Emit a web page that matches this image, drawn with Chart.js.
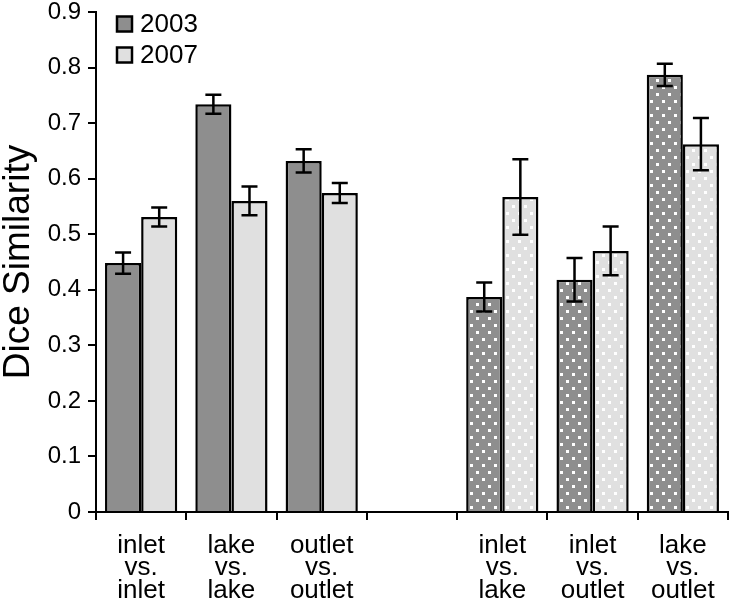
<!DOCTYPE html>
<html>
<head>
<meta charset="utf-8">
<script src="https://cdn.jsdelivr.net/npm/chart.js@4.4.1/dist/chart.umd.min.js"></script>
<style>
  html, body { margin: 0; padding: 0; background: #fff; }
  #wrap { width: 734px; height: 603px; position: relative; }
</style>
</head>
<body>
<div id="wrap"><canvas id="chartDice"></canvas></div>
<script>
// categories (the empty one is the gap between the two groups)
const categories = [
    ["inlet", "vs.", "inlet"],
    ["lake", "vs.", "lake"],
    ["outlet", "vs.", "outlet"],
    "",
    ["inlet", "vs.", "lake"],
    ["inlet", "vs.", "outlet"],
    ["lake", "vs.", "outlet"],
];
const values2003 = [0.448, 0.734, 0.632, null, 0.387, 0.418, 0.787];
const values2007 = [0.531, 0.560, 0.574, null, 0.567, 0.470, 0.662];
const err2003 = [0.019, 0.017, 0.021, null, 0.026, 0.039, 0.020];
const err2007 = [0.017, 0.026, 0.018, null, 0.068, 0.044, 0.047];
// which categories are drawn with the dotted fill
const dotted = [false, false, false, false, true, true, true];
const yTicks = [0, 0.1, 0.2, 0.3, 0.4, 0.5, 0.6, 0.7, 0.8, 0.9];

const DARK = "#8e8e8e";
const LIGHT = "#e0e0e0";
const FONT = "'Liberation Sans', Arial, sans-serif";

function dots(bg) {
    const t = document.createElement("canvas");
    t.width = 12; t.height = 14;
    const g = t.getContext("2d");
    g.fillStyle = bg;
    g.fillRect(0, 0, 12, 14);
    g.fillStyle = "#ffffff";
    g.fillRect(2, 2, 3, 3);
    g.fillRect(8, 9, 3, 3);
    return g.createPattern(t, "repeat");
}

const darkFill = dotted.map(d => d ? dots(DARK) : DARK);
const lightFill = dotted.map(d => d ? dots(LIGHT) : LIGHT);

const errorBars = {
    id: "errorBars",
    afterDatasetsDraw(chart) {
        const ctx = chart.ctx;
        const y = chart.scales.y;
        const errs = [err2003, err2007];
        ctx.save();
        ctx.strokeStyle = "#000";
        ctx.lineWidth = 2.5;
        chart.data.datasets.forEach((ds, i) => {
            chart.getDatasetMeta(i).data.forEach((bar, j) => {
                const v = ds.data[j], e = errs[i][j];
                if (v == null || e == null) return;
                const top = y.getPixelForValue(v + e);
                const bot = y.getPixelForValue(v - e);
                const hw = 8;
                ctx.beginPath();
                ctx.moveTo(bar.x, top); ctx.lineTo(bar.x, bot);
                ctx.moveTo(bar.x - hw, top); ctx.lineTo(bar.x + hw, top);
                ctx.moveTo(bar.x - hw, bot); ctx.lineTo(bar.x + hw, bot);
                ctx.stroke();
            });
        });
        ctx.restore();
    },
};

const boxLegend = {
    id: "boxLegend",
    afterDraw(chart) {
        const ctx = chart.ctx;
        const a = chart.chartArea;
        const items = [["2003", DARK], ["2007", LIGHT]];
        ctx.save();
        ctx.font = "26px " + FONT;
        ctx.textBaseline = "middle";
        items.forEach(([label, col], i) => {
            const cy = a.top + 12 + i * 31;
            ctx.fillStyle = col;
            ctx.fillRect(a.left + 21, cy - 7.5, 15, 15);
            ctx.strokeStyle = "#000";
            ctx.lineWidth = 2.5;
            ctx.strokeRect(a.left + 21, cy - 7.5, 15, 15);
            ctx.fillStyle = "#000";
            ctx.fillText(label, a.left + 44, cy + 1);
        });
        ctx.restore();
    },
};

new Chart(document.getElementById("chartDice"), {
    type: "bar",
    data: {
        labels: categories,
        datasets: [
            { label: "2003", data: values2003, backgroundColor: darkFill, borderColor: "#000", borderWidth: 2.5,
              categoryPercentage: 0.8, barPercentage: 1.0 },
            { label: "2007", data: values2007, backgroundColor: lightFill, borderColor: "#000", borderWidth: 2.5,
              categoryPercentage: 0.8, barPercentage: 1.0 },
        ],
    },
    options: {
        responsive: true,
        maintainAspectRatio: false,
        animation: false,
        layout: { autoPadding: false, padding: { top: 12, right: 6, left: 0, bottom: 0 } },
        scales: {
            x: {
                offset: true,
                grid: { offset: true, drawOnChartArea: false, drawTicks: true, tickLength: 8, color: "#000", lineWidth: 2 },
                border: { display: true, color: "#000", width: 2 },
                ticks: {
                    color: "#000", padding: 14, maxRotation: 0, autoSkip: false,
                    font: { family: FONT, size: 26, lineHeight: 0.88 },
                },
                afterFit: s => { s.height = 91; },
            },
            y: {
                min: 0, max: 0.9,
                afterBuildTicks: s => { s.ticks = yTicks.map(v => ({ value: v })); },
                grid: { drawOnChartArea: false, drawTicks: true, tickLength: 8, color: "#000", lineWidth: 2 },
                border: { display: true, color: "#000", width: 2 },
                ticks: {
                    color: "#000", padding: 7,
                    font: { family: FONT, size: 24, lineHeight: 0.4 },
                    callback: v => v === 0 ? "0" : v.toFixed(1),
                },
                title: {
                    display: true, text: "Dice Similarity", color: "#000",
                    font: { family: FONT, size: 37, lineHeight: 1 }, padding: { top: 0, bottom: 0 },
                },
                afterFit: s => { s.width = 96; },
            },
        },
        plugins: {
            legend: { display: false },
            tooltip: { enabled: false },
        },
    },
    plugins: [errorBars, boxLegend],
});
</script>
</body>
</html>
